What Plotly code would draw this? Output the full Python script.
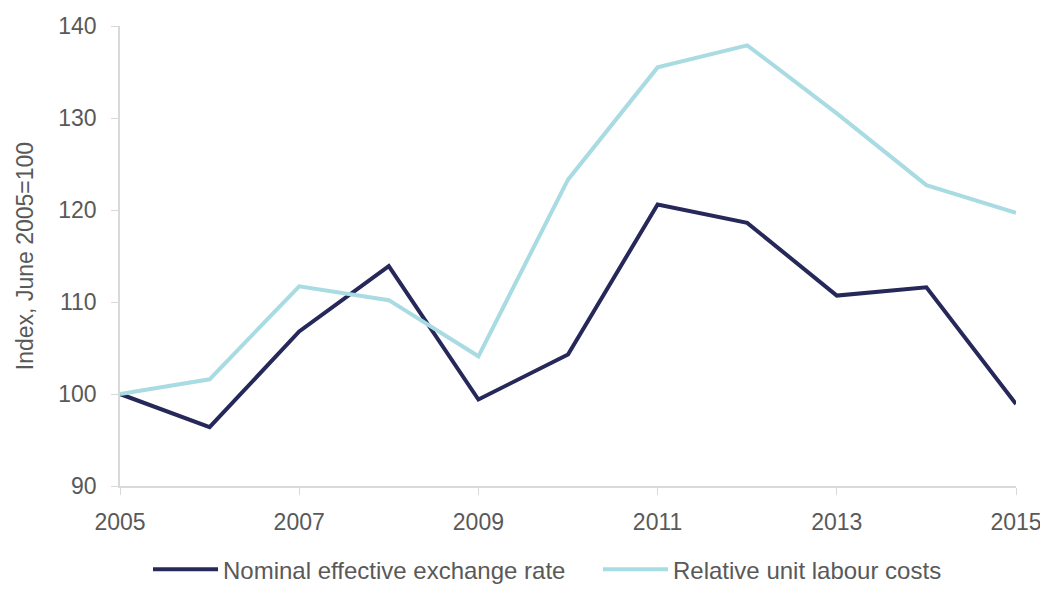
import plotly.graph_objects as go

years = [2005, 2006, 2007, 2008, 2009, 2010, 2011, 2012, 2013, 2014, 2015]
neer = [100, 96.4, 106.8, 113.9, 99.4, 104.3, 120.6, 118.6, 110.7, 111.6, 98.9]
rulc = [100, 101.6, 111.7, 110.2, 104.1, 123.3, 135.5, 137.9, 130.5, 122.7, 119.7]
x_ticks = [2005, 2007, 2009, 2011, 2013, 2015]
y_ticks = [90, 100, 110, 120, 130, 140]

fig = go.Figure()
fig.add_trace(go.Scatter(x=years, y=neer, mode="lines", name="Nominal effective exchange rate",
                         line=dict(color="#262859", width=4)))
fig.add_trace(go.Scatter(x=years, y=rulc, mode="lines", name="Relative unit labour costs",
                         line=dict(color="#a9dbe2", width=4)))

fam = "Liberation Sans, Arial, sans-serif"
font = dict(family=fam, size=23, color="#595959")
fig.update_layout(
    width=1040, height=582,
    margin=dict(l=112, r=32, t=18, b=104),
    paper_bgcolor="white", plot_bgcolor="white",
    font=font,
    showlegend=True,
    legend=dict(orientation="h", x=0.035, xanchor="left", yref="container", y=0.035, yanchor="middle",
                font=dict(family=fam, size=24, color="#595959"), itemwidth=65,
                entrywidth=370, entrywidthmode="pixels"),
)
fig.update_xaxes(range=[2005, 2015], tickvals=x_ticks, showgrid=False, zeroline=False,
                 showline=True, linecolor="#d9d9d9", linewidth=1.5, automargin=False,
                 ticks="outside", ticklen=7, tickcolor="#d9d9d9", tickfont=font,
                 ticklabelstandoff=8)
fig.update_yaxes(range=[90, 140], tickvals=y_ticks, showgrid=False, zeroline=False,
                 showline=True, linecolor="#d9d9d9", linewidth=1.5, automargin=False,
                 ticks="outside", ticklen=7, tickcolor="#d9d9d9", tickfont=font,
                 ticklabelstandoff=10,
                 title=dict(text="Index, June 2005=100", font=dict(family=fam, size=23, color="#595959"), standoff=18))

fig.write_html("out.html")
